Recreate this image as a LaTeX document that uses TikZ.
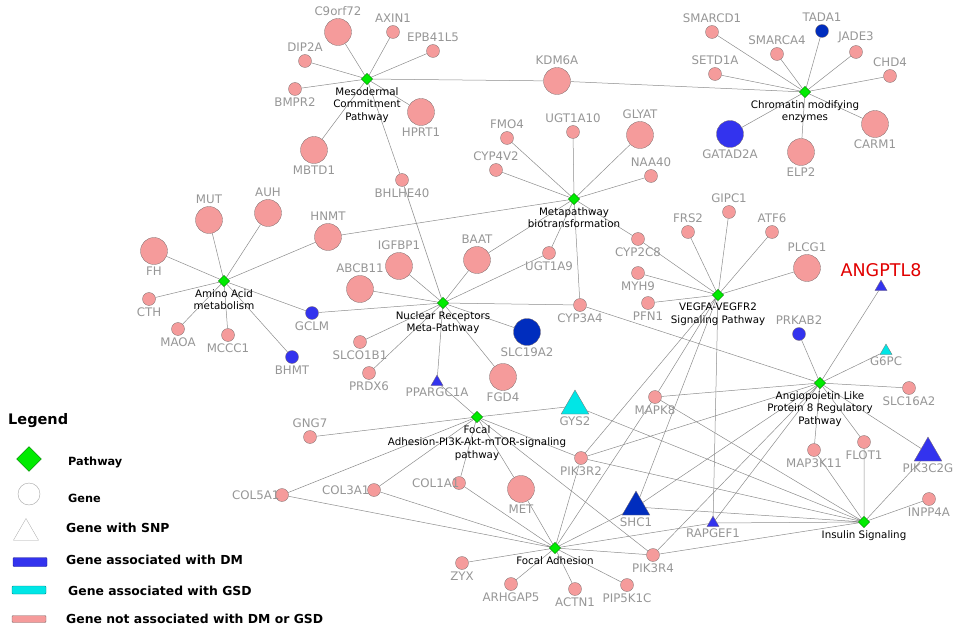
\documentclass[tikz,border=0pt]{standalone}
\usepackage{fontspec}
\setmainfont{DejaVu Sans}
\usetikzlibrary{shapes.geometric,backgrounds}
\definecolor{pwgreen}{RGB}{0,235,0}
\definecolor{genepink}{RGB}{245,155,155}
\definecolor{dmblue}{RGB}{51,51,238}
\definecolor{dmdark}{RGB}{0,45,190}
\definecolor{gsdcyan}{RGB}{0,230,230}
\definecolor{labelgray}{RGB}{150,150,150}
\definecolor{edgegray}{RGB}{140,140,140}
\definecolor{rimgray}{RGB}{125,110,110}
\definecolor{keyred}{RGB}{225,0,0}
\begin{document}
\begin{tikzpicture}[x=1pt,y=-1pt,label distance=1.5pt,
  pathway/.style={diamond,fill=pwgreen,draw=green!45!black,line width=0.3pt,inner sep=0pt,minimum size=11.5pt},
  gene/.style={circle,fill=genepink,draw=rimgray,line width=0.3pt,inner sep=0pt,minimum size=13pt},
  biggene/.style={gene,minimum size=27pt},
  snp/.style={regular polygon,regular polygon sides=3,fill=genepink,draw=rimgray,line width=0.3pt,inner sep=0pt,minimum size=14pt},
  bigsnp/.style={snp,minimum size=32pt},
  dm/.style={fill=dmblue},
  dmd/.style={fill=dmdark},
  gsd/.style={fill=gsdcyan},
  gname/.style={text=labelgray,font=\fontsize{11.8}{13}\selectfont,inner sep=0.8pt},
  pname/.style={font=\fontsize{10.3}{12.5}\selectfont,align=center,inner sep=0.6pt},
  link/.style={draw=edgegray,line width=0.5pt},
  keytext/.style={font=\bfseries\fontsize{12.4}{14}\selectfont,anchor=base west,inner sep=0pt}]
\useasboundingbox (0,0) rectangle (963,628);

% pathways
\node[pathway,label={[pname]below:{Mesodermal\\Commitment\\Pathway}}] (meso) at (367,79) {};
\node[pathway,label={[pname]below:{Chromatin modifying\\enzymes}}] (chrom) at (805,92) {};
\node[pathway,label={[pname]below:{Metapathway\\biotransformation}}] (metab) at (574,199) {};
\node[pathway,label={[pname]below:{Amino Acid\\metabolism}}] (amino) at (224,281) {};
\node[pathway,label={[pname]below:{Nuclear Receptors\\Meta-Pathway}}] (nucl) at (443,303) {};
\node[pathway,label={[pname]below:{VEGFA-VEGFR2\\Signaling Pathway}}] (vegf) at (718,295) {};
\node[pathway,label={[pname]below:{Angiopoietin Like\\Protein 8 Regulatory\\Pathway}}] (angio) at (820,383) {};
\node[pathway,label={[pname]below:{Focal\\Adhesion-PI3K-Akt-mTOR-signaling\\pathway}}] (fapi) at (477,417) {};
\node[pathway,label={[pname]below:{Focal Adhesion}}] (focal) at (555,548) {};
\node[pathway,label={[pname]below:{Insulin Signaling}}] (insul) at (864,522) {};

% genes, top left
\node[biggene,label={[gname]above:C9orf72}] (c9orf72) at (338,32) {};
\node[gene,label={[gname]above:AXIN1}] (axin1) at (393,32) {};
\node[gene,label={[gname]above:EPB41L5}] (epb41l5) at (433,51) {};
\node[gene,label={[gname]above:DIP2A}] (dip2a) at (305,61) {};
\node[gene,label={[gname]below:BMPR2}] (bmpr2) at (295,89) {};
\node[biggene,label={[gname]below:HPRT1}] (hprt1) at (421,112) {};
\node[biggene,label={[gname]below:MBTD1}] (mbtd1) at (314,150) {};
\node[gene,label={[gname]below:BHLHE40}] (bhlhe40) at (402,180) {};
\node[biggene,label={[gname]above:KDM6A}] (kdm6a) at (557,81) {};

% genes, top right
\node[gene,label={[gname]above:SMARCD1}] (smarcd1) at (712,32) {};
\node[gene,dmd,label={[gname]above:TADA1}] (tada1) at (822,31) {};
\node[gene,label={[gname]above:SMARCA4}] (smarca4) at (777,54) {};
\node[gene,label={[gname]above:JADE3}] (jade3) at (856,52) {};
\node[gene,label={[gname]above:SETD1A}] (setd1a) at (715,74) {};
\node[gene,label={[gname]above:CHD4}] (chd4) at (890,76) {};
\node[biggene,dm,label={[gname]below:GATAD2A}] (gatad2a) at (730,134) {};
\node[biggene,label={[gname]below:ELP2}] (elp2) at (801,152) {};
\node[biggene,label={[gname]below:CARM1}] (carm1) at (875,124) {};

% genes, middle
\node[gene,label={[gname]above:FMO4}] (fmo4) at (507,138) {};
\node[gene,label={[gname]above:UGT1A10}] (ugt1a10) at (573,132) {};
\node[biggene,label={[gname]above:GLYAT}] (glyat) at (640,135) {};
\node[gene,label={[gname]above:CYP4V2}] (cyp4v2) at (496,170) {};
\node[gene,label={[gname]above:NAA40}] (naa40) at (651,176) {};
\node[gene,label={[gname]below:UGT1A9}] (ugt1a9) at (549,253) {};
\node[gene,label={[gname]below:CYP2C8}] (cyp2c8) at (638,239) {};
\node[gene,label={[gname]below:CYP3A4}] (cyp3a4) at (580,305) {};

% genes, left
\node[biggene,label={[gname]above:MUT}] (mut) at (209,220) {};
\node[biggene,label={[gname]above:AUH}] (auh) at (268,213) {};
\node[biggene,label={[gname]below:FH}] (fh) at (154,251) {};
\node[biggene,label={[gname]above:HNMT}] (hnmt) at (328,237) {};
\node[gene,label={[gname]below:CTH}] (cth) at (149,299) {};
\node[gene,dm,label={[gname]below:GCLM}] (gclm) at (312,313) {};
\node[gene,label={[gname]below:MAOA}] (maoa) at (178,329) {};
\node[gene,label={[gname]below:MCCC1}] (mccc1) at (228,335) {};
\node[gene,dm,label={[gname]below:BHMT}] (bhmt) at (292,357) {};

\node[biggene,label={[gname]above:IGFBP1}] (igfbp1) at (399,266) {};
\node[biggene,label={[gname]above:ABCB11}] (abcb11) at (360,289) {};
\node[biggene,label={[gname]above:BAAT}] (baat) at (477,260) {};
\node[gene,label={[gname]below:SLCO1B1}] (slco1b1) at (360,342) {};
\node[gene,label={[gname]below:PRDX6}] (prdx6) at (369,373) {};
\node[snp,dm,label={[gname]below:PPARGC1A}] (ppargc1a) at (437,382) {};
\node[biggene,dmd,label={[gname]below:SLC19A2}] (slc19a2) at (527,332) {};
\node[biggene,label={[gname]below:FGD4}] (fgd4) at (503,377) {};

% genes, right
\node[gene,label={[gname]above:GIPC1}] (gipc1) at (729,212) {};
\node[gene,label={[gname]above:FRS2}] (frs2) at (688,232) {};
\node[gene,label={[gname]above:ATF6}] (atf6) at (772,232) {};
\node[biggene,label={[gname]above:PLCG1}] (plcg1) at (807,268) {};
\node[gene,label={[gname]below:MYH9}] (myh9) at (638,273) {};
\node[gene,label={[gname]below:PFN1}] (pfn1) at (648,303) {};

\node[snp,dm,label={[text=keyred,font=\fontsize{17.5}{20}\selectfont,inner sep=0.8pt]above:ANGPTL8}] (angptl8) at (881,287) {};
\node[gene,dm,label={[gname]above:PRKAB2}] (prkab2) at (799,334) {};
\node[snp,gsd,label={[gname]below:G6PC}] (g6pc) at (886,351) {};
\node[gene,label={[gname]below:SLC16A2}] (slc16a2) at (909,388) {};
\node[gene,label={[gname]below:MAP3K11}] (map3k11) at (814,450) {};
\node[gene,label={[gname]below:FLOT1}] (flot1) at (864,442) {};
\node[bigsnp,dm,label={[gname]below:PIK3C2G}] (pik3c2g) at (928,453) {};
\node[gene,label={[gname]below:INPP4A}] (inpp4a) at (929,499) {};

% genes, bottom
\node[gene,label={[gname]above:GNG7}] (gng7) at (310,437) {};
\node[gene,label={[gname,label distance=-5pt]left:COL5A1}] (col5a1) at (282,495) {};
\node[gene,label={[gname,label distance=-3pt]left:COL3A1}] (col3a1) at (374,490) {};
\node[gene,label={[gname,label distance=-8pt]left:COL1A1}] (col1a1) at (459,483) {};
\node[biggene,label={[gname]below:MET}] (metgene) at (521,489) {};
\node[bigsnp,gsd,label={[gname]below:GYS2}] (gys2) at (575,406) {};
\node[gene,label={[gname]below:MAPK8}] (mapk8) at (655,397) {};
\node[gene,label={[gname]below:PIK3R2}] (pik3r2) at (581,458) {};
\node[bigsnp,dmd,label={[gname]below:SHC1}] (shc1) at (636,507) {};
\node[snp,dm,label={[gname]below:RAPGEF1}] (rapgef1) at (713,523) {};
\node[gene,label={[gname]below:PIK3R4}] (pik3r4) at (653,555) {};
\node[gene,label={[gname]below:ZYX}] (zyx) at (462,563) {};
\node[gene,label={[gname]below:ARHGAP5}] (arhgap5) at (511,584) {};
\node[gene,label={[gname]below:ACTN1}] (actn1) at (575,589) {};
\node[gene,label={[gname]below:PIP5K1C}] (pip5k1c) at (627,585) {};

% legend
\node[font=\bfseries\fontsize{14.5}{16}\selectfont,anchor=base west,inner sep=0pt] (legend) at (8,424) {Legend};
\node[pathway,minimum size=25pt] (keypw) at (29,459) {};
\node[keytext,font=\bfseries\fontsize{11.3}{13}\selectfont] (keypwtext) at (68,465) {Pathway};
\node[circle,draw=gray!70,fill=white,minimum size=22pt,inner sep=0pt] (keygene) at (29,494) {};
\node[keytext,font=\bfseries\fontsize{11.3}{13}\selectfont] (keygenetext) at (68,502) {Gene};
\node[snp,fill=white,draw=gray!70,minimum size=29pt] (keysnp) at (26,533) {};
\node[keytext] (keysnptext) at (66,532.5) {Gene with SNP};
\node[rectangle,rounded corners=1pt,fill=dmblue,draw=dmblue!60!black,minimum width=34pt,minimum height=9pt,inner sep=0pt] (keydm) at (30,562) {};
\node[keytext] (keydmtext) at (66,564.5) {Gene associated with DM};
\node[rectangle,rounded corners=1pt,fill=gsdcyan,draw=gsdcyan!60!black,minimum width=34pt,minimum height=8pt,inner sep=0pt] (keygsd) at (29,590) {};
\node[keytext] (keygsdtext) at (68,595.5) {Gene associated with GSD};
\node[rectangle,rounded corners=1pt,fill=genepink,draw=rimgray,minimum width=34pt,minimum height=7pt,inner sep=0pt] (keyother) at (29,619) {};
\node[keytext] (keyothertext) at (66,623.5) {Gene not associated with DM or GSD};

% links
\begin{pgfonlayer}{background}
\draw[link] (meso) -- (c9orf72) (meso) -- (axin1) (meso) -- (epb41l5) (meso) -- (dip2a) (meso) -- (bmpr2)
  (meso) -- (hprt1) (meso) -- (mbtd1) (meso) -- (bhlhe40) (meso) -- (kdm6a);
\draw[link] (chrom) -- (kdm6a) (chrom) -- (smarcd1) (chrom) -- (tada1) (chrom) -- (smarca4) (chrom) -- (jade3)
  (chrom) -- (setd1a) (chrom) -- (chd4) (chrom) -- (gatad2a) (chrom) -- (elp2) (chrom) -- (carm1);
\draw[link] (metab) -- (fmo4) (metab) -- (ugt1a10) (metab) -- (glyat) (metab) -- (cyp4v2) (metab) -- (naa40)
  (metab) -- (hnmt) (metab) -- (baat) (metab) -- (ugt1a9) (metab) -- (cyp3a4) (metab) -- (cyp2c8);
\draw[link] (amino) -- (mut) (amino) -- (auh) (amino) -- (fh) (amino) -- (hnmt) (amino) -- (cth)
  (amino) -- (gclm) (amino) -- (maoa) (amino) -- (mccc1) (amino) -- (bhmt);
\draw[link] (nucl) -- (bhlhe40) (nucl) -- (igfbp1) (nucl) -- (abcb11) (nucl) -- (baat) (nucl) -- (ugt1a9)
  (nucl) -- (cyp3a4) (nucl) -- (gclm) (nucl) -- (slco1b1) (nucl) -- (prdx6) (nucl) -- (ppargc1a)
  (nucl) -- (slc19a2) (nucl) -- (fgd4);
\draw[link] (vegf) -- (cyp2c8) (vegf) -- (gipc1) (vegf) -- (frs2) (vegf) -- (atf6) (vegf) -- (plcg1)
  (vegf) -- (myh9) (vegf) -- (pfn1) (vegf) -- (mapk8) (vegf) -- (pik3r2) (vegf) -- (shc1) (vegf) -- (rapgef1);
\draw[link] (angio) -- (angptl8) (angio) -- (prkab2) (angio) -- (g6pc) (angio) -- (slc16a2) (angio) -- (map3k11)
  (angio) -- (flot1) (angio) -- (pik3c2g) (angio) -- (cyp3a4) (angio) -- (mapk8) (angio) -- (pik3r2)
  (angio) -- (shc1) (angio) -- (rapgef1) (angio) -- (pik3r4);
\draw[link] (fapi) -- (gng7) (fapi) -- (col5a1) (fapi) -- (col3a1) (fapi) -- (col1a1) (fapi) -- (metgene)
  (fapi) -- (gys2) (fapi) -- (pik3r2) (fapi) -- (pik3r4) (fapi) -- (ppargc1a);
\draw[link] (focal) -- (col5a1) (focal) -- (col3a1) (focal) -- (col1a1) (focal) -- (metgene) (focal) -- (zyx)
  (focal) -- (arhgap5) (focal) -- (actn1) (focal) -- (pip5k1c) (focal) -- (mapk8) (focal) -- (pik3r2)
  (focal) -- (shc1) (focal) -- (rapgef1) (focal) -- (pik3r4);
\draw[link] (insul) -- (map3k11) (insul) -- (flot1) (insul) -- (pik3c2g) (insul) -- (inpp4a) (insul) -- (gys2)
  (insul) -- (mapk8) (insul) -- (pik3r2) (insul) -- (shc1) (insul) -- (rapgef1) (insul) -- (pik3r4);
\end{pgfonlayer}
\end{tikzpicture}
\end{document}
